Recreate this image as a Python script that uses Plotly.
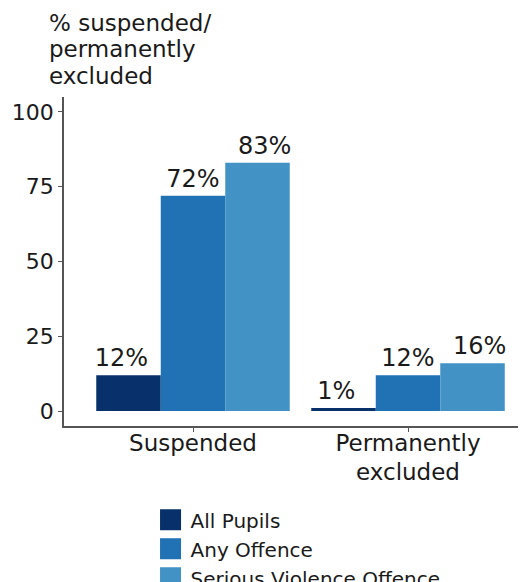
import plotly.graph_objects as go

categories = ["Suspended", "Permanently<br>excluded"]
series_names = ["All Pupils", "Any Offence", "Serious Violence Offence"]
all_pupils = [12, 1]
any_offence = [72, 12]
serious_violence = [83, 16]
colors = ["#08306B", "#2171B5", "#4292C6"]
y_ticks = [0, 25, 50, 75, 100]
title_lines = ["% suspended/", "permanently", "excluded"]

FONT = "DejaVu Sans"
series_vals = [all_pupils, any_offence, serious_violence]
n = len(series_names)
fig = go.Figure()
# bars: dodge width 0.9
for name, vals, col in zip(series_names, series_vals, colors):
    fig.add_trace(go.Bar(
        x=categories, y=vals, name=name, legendgroup=name, showlegend=False,
        marker=dict(color=col, line=dict(width=0)),
        hovertemplate="%{y}%<extra>" + name + "</extra>",
    ))
# value labels: dodged with width 1 (as in the reference)
for i, (name, vals) in enumerate(zip(series_names, series_vals)):
    fig.add_trace(go.Bar(
        x=categories, y=vals, name=name, legendgroup=name, showlegend=False,
        width=1 / n, offset=-0.5 + i / n,
        marker=dict(color="rgba(0,0,0,0)", line=dict(width=0)),
        text=[f"{v}%" for v in vals], textposition="outside",
        textfont=dict(family=FONT, size=24, color="#1a1a1a"),
        cliponaxis=False, hoverinfo="skip",
    ))
# legend keys (large squares like the reference)
for name, col in zip(series_names, colors):
    fig.add_trace(go.Scatter(
        x=[None], y=[None], mode="markers", name=name, legendgroup=name,
        marker=dict(symbol="square", size=16, color=col, line=dict(color=col, width=5)),
        hoverinfo="skip",
    ))

for i, line in enumerate(title_lines):
    fig.add_annotation(
        text=line, xref="paper", yref="paper", x=-0.036, y=1.225 - i * 0.0805,
        xanchor="left", yanchor="middle", align="left", showarrow=False,
        font=dict(family=FONT, size=23, color="#1a1a1a"),
    )

fig.update_layout(
    width=526, height=582,
    margin=dict(l=56, r=0, t=89, b=164, autoexpand=False),
    paper_bgcolor="white", plot_bgcolor="white",
    barmode="group", bargap=0.1, bargroupgap=0,
    font=dict(family=FONT, color="#1a1a1a"),
    xaxis=dict(
        type="category", range=[-0.6, 1.586], automargin=False,
        showline=True, linecolor="#555", linewidth=1.8,
        ticks="outside", ticklen=4, tickcolor="#555", tickwidth=1.2,
        ticklabelstandoff=-9,
        tickfont=dict(family=FONT, size=23, color="#1a1a1a"),
        showgrid=False, zeroline=False,
    ),
    yaxis=dict(
        range=[-5, 105], tickvals=y_ticks, automargin=False,
        showline=True, linecolor="#555", linewidth=1.8,
        ticks="outside", ticklen=4, tickcolor="#555", tickwidth=1.2,
        tickfont=dict(family=FONT, size=22, color="#1a1a1a"),
        showgrid=False, zeroline=False,
    ),
    legend=dict(
        x=0.271, y=0.154, xref="container", yref="container",
        xanchor="left", yanchor="top",
        orientation="v", tracegroupgap=0,
        font=dict(family=FONT, size=20, color="#1a1a1a"),
        bgcolor="rgba(0,0,0,0)",
    ),
)

fig.write_html("out.html")
